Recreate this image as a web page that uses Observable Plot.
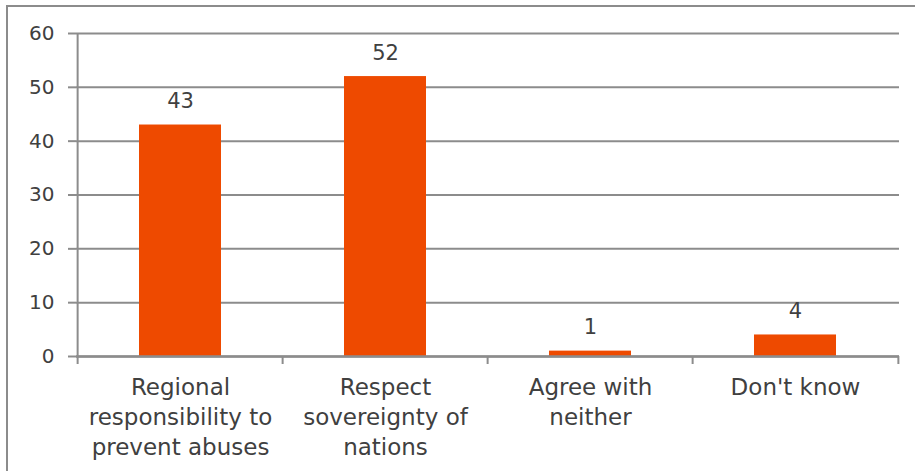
<!DOCTYPE html>
<html>
<head>
<meta charset="utf-8">
<script src="https://cdn.jsdelivr.net/npm/d3@7"></script>
<script src="https://cdn.jsdelivr.net/npm/@observablehq/plot@0.6"></script>
<style>
  html, body { margin: 0; padding: 0; background: #fff; overflow: hidden; }
  #wrap { position: relative; width: 915px; height: 471px; overflow: hidden; }
  #frame { position: absolute; left: 6px; top: 5px; width: 920px; height: 480px; border: 2px solid #8c8c8c; box-sizing: border-box; pointer-events: none; }
  #chart { position: absolute; left: 0; top: 0; }
</style>
</head>
<body>
<div id="wrap"><div id="chart"></div><div id="frame"></div></div>
<script>
const categories = ["Regional responsibility to prevent abuses", "Respect sovereignty of nations", "Agree with neither", "Don't know"];
const tickLabels = ["Regional\nresponsibility to\nprevent abuses", "Respect\nsovereignty of\nnations", "Agree with\nneither", "Don't know"];
const values = [43, 52, 1, 4];
const yTicks = [0, 10, 20, 30, 40, 50, 60];

const data = categories.map((c, i) => ({category: c, value: values[i], label: tickLabels[i]}));

const W = 915, H = 471, mL = 76, mR = 16, mT = 33, mB = 115;
const step = (W - mL - mR) / categories.length;
const grey = "#8c8c8c";
const textColor = "#404040";
const font = "'DejaVu Sans', sans-serif";

const chart = Plot.plot({
  width: W,
  height: H,
  marginLeft: mL,
  marginRight: mR,
  marginTop: mT,
  marginBottom: mB,
  style: {fontFamily: font, fontSize: "20px", color: textColor, background: "transparent"},
  x: {type: "band", domain: categories, paddingInner: 0.6, paddingOuter: 0.3, label: null},
  y: {type: "linear", domain: [0, 60], label: null},
  marks: [
    Plot.gridY(yTicks, {stroke: grey, strokeOpacity: 1, strokeWidth: 2}),
    Plot.axisY(yTicks, {tickSize: 8, tickPadding: 14, stroke: grey, strokeWidth: 2, fill: textColor, fontSize: 20, label: null}),
    Plot.ruleX([categories[0]], {x: d => d, dx: -step / 2, y1: 0, y2: 60, stroke: grey, strokeWidth: 2}),
    Plot.barY(data, {x: "category", y: "value", fill: "#EE4A00"}),
    Plot.ruleY([0], {stroke: grey, strokeWidth: 2.5}),
    Plot.ruleX(categories, {x: d => d, dx: -step / 2, y1: 0, y2: 0, insetBottom: -8, stroke: grey, strokeWidth: 2}),
    Plot.ruleX([categories[categories.length - 1]], {x: d => d, dx: step / 2, y1: 0, y2: 0, insetBottom: -8, stroke: grey, strokeWidth: 2}),
    Plot.text(data, {x: "category", y: "value", text: d => String(d.value), lineAnchor: "bottom", dy: -17, fill: textColor, fontSize: 21}),
    Plot.axisX({tickSize: 0, tickPadding: 17, tickFormat: (d) => tickLabels[categories.indexOf(d)], lineHeight: 1.3, fill: textColor, fontSize: 23, label: null})
  ]
});
document.getElementById("chart").appendChild(chart);
</script>
</body>
</html>
